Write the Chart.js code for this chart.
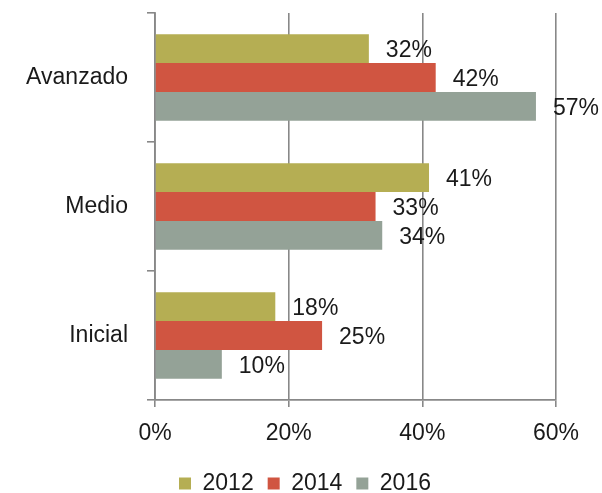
<!DOCTYPE html>
<html>
<head>
<meta charset="utf-8">
<script src="https://cdn.jsdelivr.net/npm/chart.js@4.4.0/dist/chart.umd.min.js"></script>
<style>
  html, body { margin: 0; padding: 0; background: #fff; }
  #wrap { width: 602px; height: 493px; }
</style>
</head>
<body>
<div id="wrap"><canvas id="myChart" width="602" height="493"></canvas></div>
<script>
const categories = ['Avanzado', 'Medio', 'Inicial'];
const years = ['2012', '2014', '2016'];
const values2012 = [32, 41, 18];
const values2014 = [42, 33, 25];
const values2016 = [57, 34, 10];
const xTicks = [0, 20, 40, 60];

const colors = ['#B5AE53', '#D05541', '#94A297'];
const fontFam = '"Liberation Sans", Arial, sans-serif';

// labels drawn after the bars, to the right of each bar end
const barLabels = {
  id: 'barLabels',
  afterLayout(chart) {
    // legend sits a bit right of the canvas centre
    chart.legend.left = 54;
  },
  afterDatasetsDraw(chart) {
    const c = chart.ctx;
    c.save();
    c.font = '23px ' + fontFam;
    c.fillStyle = '#1a1a1a';
    c.textAlign = 'left';
    c.textBaseline = 'middle';
    chart.data.datasets.forEach(function(ds, i) {
      chart.getDatasetMeta(i).data.forEach(function(bar, j) {
        c.fillText(ds.data[j] + '%', bar.x + 17, bar.y + 2);
      });
    });
    c.restore();
  }
};

const ctx = document.getElementById('myChart').getContext('2d');
const myChart = new Chart(ctx, {
  type: 'bar',
  data: {
    labels: categories,
    datasets: [
      { label: years[0], data: values2012, backgroundColor: colors[0] },
      { label: years[1], data: values2014, backgroundColor: colors[1] },
      { label: years[2], data: values2016, backgroundColor: colors[2] }
    ]
  },
  options: {
    indexAxis: 'y',
    responsive: false,
    animation: false,
    layout: { padding: { top: 13, right: 46, left: 0, bottom: -12 } },
    datasets: {
      bar: { categoryPercentage: 0.67, barPercentage: 1.0 }
    },
    scales: {
      x: {
        min: 0,
        max: 60,
        afterBuildTicks: function(axis) {
          axis.ticks = xTicks.map(function(v) { return { value: v }; });
        },
        afterFit: function(axis) { axis.height = 58; },
        grid: { color: '#888', lineWidth: 1.6, tickLength: 7, drawTicks: true },
        border: { display: true, color: '#888', width: 1.8 },
        ticks: {
          color: '#1a1a1a',
          font: { size: 23, family: fontFam },
          padding: 13,
          callback: function(v) { return v + '%'; }
        }
      },
      y: {
        afterFit: function(axis) {
          axis.width = 155;
          axis.paddingTop = 0;
          axis.paddingBottom = 0;
        },
        grid: { drawOnChartArea: false, drawTicks: true, tickLength: 8, color: '#888', lineWidth: 1.6, offset: true },
        border: { display: true, color: '#888', width: 1.8 },
        ticks: {
          color: '#1a1a1a',
          font: { size: 23, family: fontFam },
          padding: 19
        }
      }
    },
    plugins: {
      legend: {
        position: 'bottom',
        labels: {
          boxWidth: 12,
          boxHeight: 12,
          padding: 14,
          color: '#1a1a1a',
          font: { size: 23, family: fontFam }
        }
      },
      tooltip: { enabled: false }
    }
  },
  plugins: [barLabels]
});
</script>
</body>
</html>
